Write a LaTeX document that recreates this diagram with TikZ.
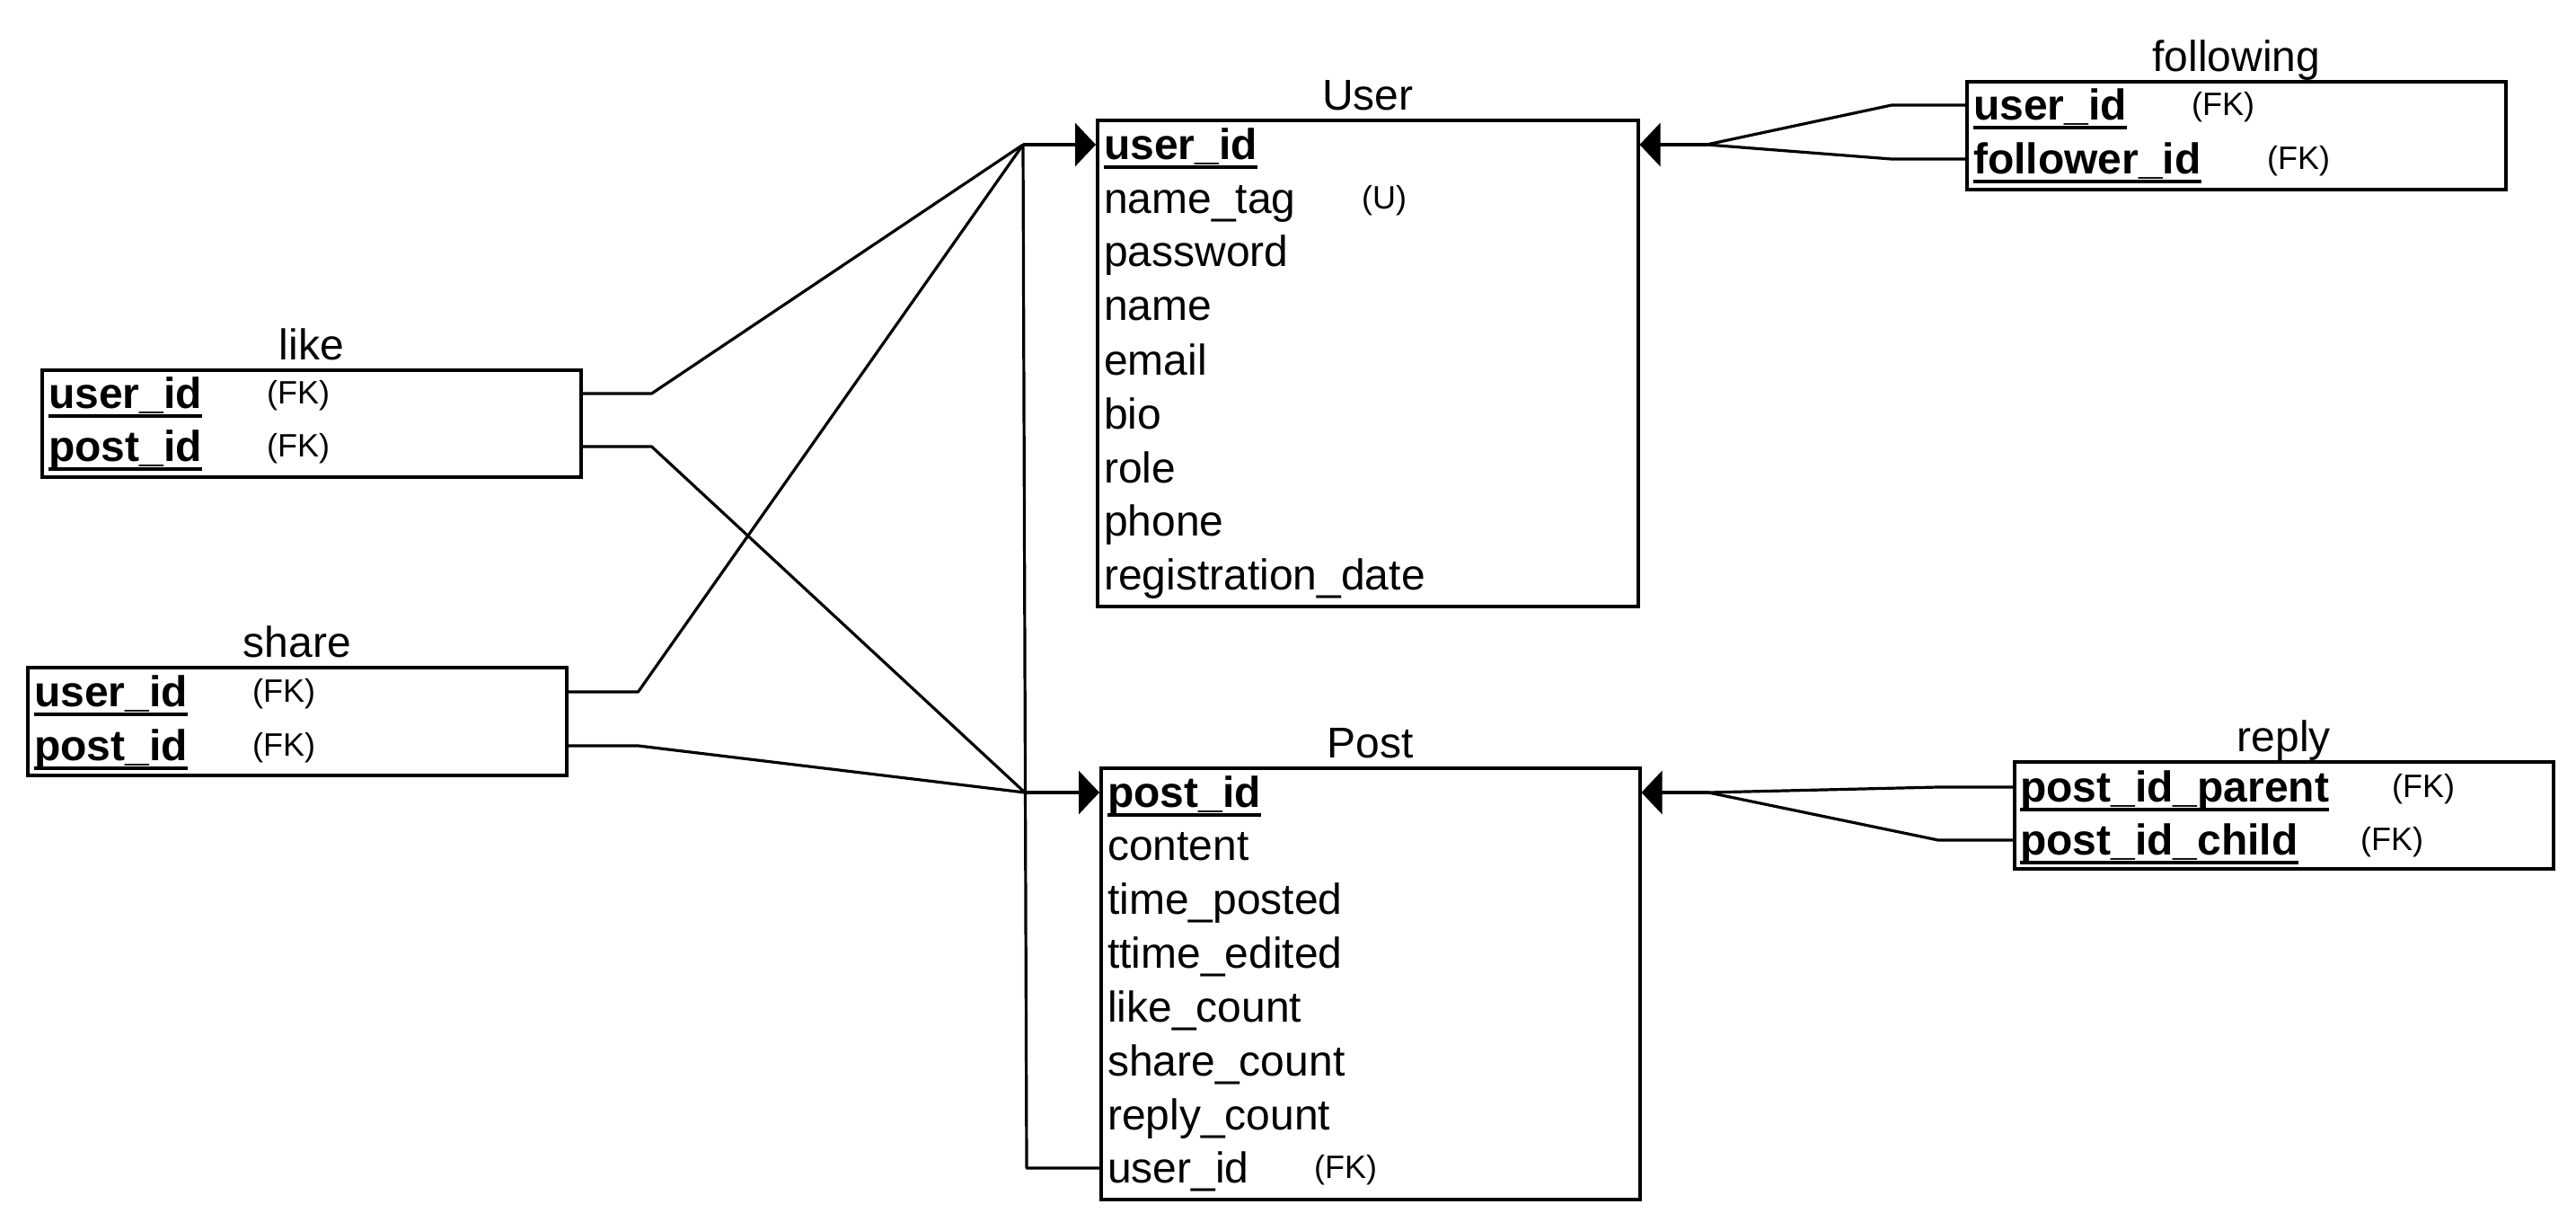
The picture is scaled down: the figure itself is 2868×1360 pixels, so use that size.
\documentclass[tikz,border=0pt]{standalone}
\usepackage{fontspec}
\setmainfont{Liberation Sans}
\usetikzlibrary{arrows.meta}

% bold key attribute with a rule beneath it
\newsavebox\keybox
\newcommand\keyname[1]{\sbox\keybox{\bfseries #1}\rlap{\rule[-10.5pt]{\wd\keybox}{3.3pt}}\usebox\keybox}
\newcommand\fldfont{\fontsize{48}{58}\selectfont}
\newcommand\tagfont{\fontsize{36}{42}\selectfont}

\begin{document}
\begin{tikzpicture}[x=1pt,y=-1pt,
  tbl/.style={draw, line width=3.5pt, inner sep=0pt, anchor=north west, minimum width=600pt},
  ttl/.style={font=\fldfont, inner sep=0pt, anchor=base},
  fld/.style={font=\fldfont, inner sep=0pt, anchor=west, text height=34pt, text depth=2pt},
  tag/.style={font=\tagfont, inner sep=0pt, anchor=west, text height=23pt, text depth=0pt},
  link/.style={line width=3.2pt, line join=round},
  one/.style={-{Triangle[length=23pt,width=48pt]}}]
\useasboundingbox (0,0) rectangle (2868,1360);

% ---- tables ----
\node[tbl, minimum width=602pt, minimum height=541pt] (user) at (1220,132) {};
\node[tbl, minimum height=480pt] (post) at (1224,853) {};
\node[tbl, minimum height=120pt] (follow) at (2188,89) {};
\node[tbl, minimum height=119pt] (like) at (45,410) {};
\node[tbl, minimum height=120pt] (share) at (29,741) {};
\node[tbl, minimum height=119pt] (reply) at (2241,846) {};

% ---- titles ----
\node[ttl] (userT) at ([yshift=10pt]user.north) {User};
\node[ttl] (postT) at ([yshift=10pt]post.north) {Post};
\node[ttl] (followT) at ([yshift=10pt]follow.north) {following};
\node[ttl] (likeT) at ([yshift=10pt]like.north) {like};
\node[ttl] (shareT) at ([yshift=10pt]share.north) {share};
\node[ttl] (replyT) at ([yshift=10pt]reply.north) {reply};

% ---- User attributes ----
\node[fld] (u1) at (1229,161) {\keyname{user\_id}};
\node[fld] (u2) at (1229,221) {name\_tag};
\node[tag] (u2t) at (1516,221) {(U)};
\node[fld] (u3) at (1229,280) {password};
\node[fld] (u4) at (1229,340) {name};
\node[fld] (u5) at (1229,401) {email};
\node[fld] (u6) at (1229,461) {bio};
\node[fld] (u7) at (1229,521) {role};
\node[fld] (u8) at (1229,580) {phone};
\node[fld] (u9) at (1229,640) {registration\_date};

% ---- Post attributes ----
\node[fld] (p1) at (1233,882) {\keyname{post\_id}};
\node[fld] (p2) at (1233,941) {content};
\node[fld] (p3) at (1233,1001) {time\_posted};
\node[fld] (p4) at (1233,1061) {ttime\_edited};
\node[fld] (p5) at (1233,1121) {like\_count};
\node[fld] (p6) at (1233,1181) {share\_count};
\node[fld] (p7) at (1233,1241) {reply\_count};
\node[fld] (p8) at (1233,1300) {user\_id};
\node[tag] (p8t) at (1463,1300) {(FK)};

% ---- following ----
\node[fld] (f1) at (2197,117) {\keyname{user\_id}};
\node[tag] (f1t) at (2440,117) {(FK)};
\node[fld] (f2) at (2197,177) {\keyname{follower\_id}};
\node[tag] (f2t) at (2524,177) {(FK)};

% ---- like ----
\node[fld] (l1) at (54,438) {\keyname{user\_id}};
\node[tag] (l1t) at (297,438) {(FK)};
\node[fld] (l2) at (54,497) {\keyname{post\_id}};
\node[tag] (l2t) at (297,497) {(FK)};

% ---- share ----
\node[fld] (s1) at (38,770) {\keyname{user\_id}};
\node[tag] (s1t) at (281,770) {(FK)};
\node[fld] (s2) at (38,830) {\keyname{post\_id}};
\node[tag] (s2t) at (281,830) {(FK)};

% ---- reply ----
\node[fld] (r1) at (2249,876) {\keyname{post\_id\_parent}};
\node[tag] (r1t) at (2663,876) {(FK)};
\node[fld] (r2) at (2249,935) {\keyname{post\_id\_child}};
\node[tag] (r2t) at (2628,935) {(FK)};

% ---- junction points ----
\coordinate (hubU) at (1139,161);
\coordinate (hubP) at (1141,882);
\coordinate (hubF) at (1900,161);
\coordinate (hubR) at (1902,882);

% ---- references to User ----
\draw[link,one] (hubU) -- (u1 -| user.west);
\draw[link] (l1 -| like.east) -- ++(77,0) -- (hubU);
\draw[link] (s1 -| share.east) -- ++(78,0) -- (hubU);
\draw[link] (p8 -| post.west) -- ++(-81,0) -- (hubU);
\draw[link,one] (hubF) -- (u1 -| user.east);
\draw[link] (f1 -| follow.west) -- ++(-82,0) -- (hubF);
\draw[link] (f2 -| follow.west) -- ++(-82,0) -- (hubF);

% ---- references to Post ----
\draw[link,one] (hubP) -- (p1 -| post.west);
\draw[link] (l2 -| like.east) -- ++(77,0) -- (hubP);
\draw[link] (s2 -| share.east) -- ++(78,0) -- (hubP);
\draw[link,one] (hubR) -- (p1 -| post.east);
\draw[link] (r1 -| reply.west) -- ++(-83,0) -- (hubR);
\draw[link] (r2 -| reply.west) -- ++(-83,0) -- (hubR);
\end{tikzpicture}
\end{document}
